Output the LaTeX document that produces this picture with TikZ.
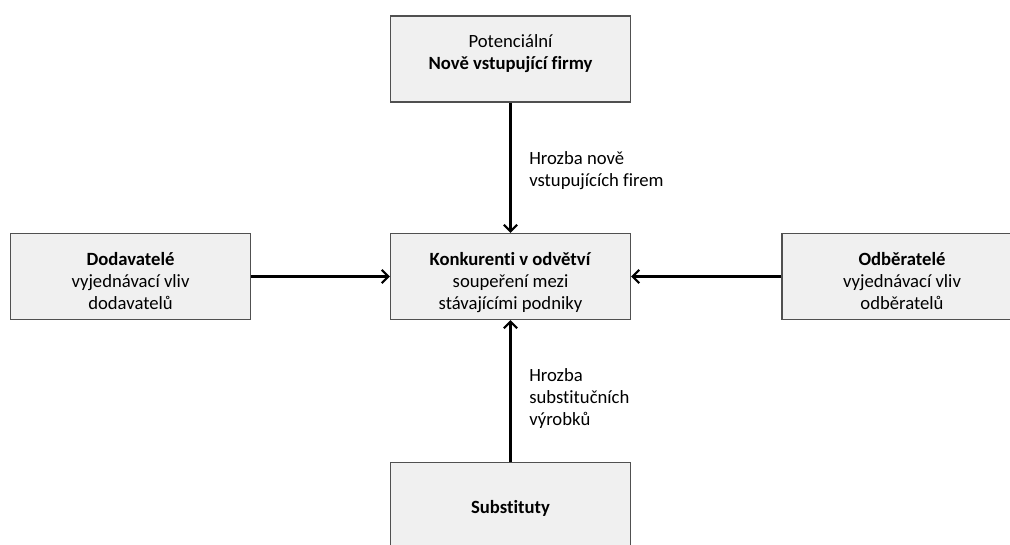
\documentclass[tikz,border=0pt]{standalone}
\usepackage{fontspec}
\setmainfont{Carlito}[Ligatures=NoCommon]
\usetikzlibrary{arrows.meta}
\definecolor{boxfill}{HTML}{F0F0F0}
\definecolor{boxline}{HTML}{505050}
\begin{document}
\begin{tikzpicture}[x=0.75pt,y=-0.75pt,
        force/.style={draw=boxline, line width=0.9pt, fill=boxfill, minimum width=180pt, minimum height=64.5pt, align=center, inner sep=0pt, text height=52pt, text depth=2.2pt, font=\fontsize{14}{16.6}\selectfont},
        pull/.style={-{Straight Barb[length=5pt,width=10pt]}, line width=1.6pt},
        note/.style={align=left, inner sep=0pt, anchor=base west, font=\fontsize{14}{16.6}\selectfont}]
        \useasboundingbox (0,0) rectangle (1010,544);
        \clip (0,0) rectangle (1010,544);
        \node[force, text height=18pt, text depth=2.6pt] (entrants) at (510.5,59) {Potenciální\\\textbf{Nově vstupující firmy}};
        \node[force] (rivals) at (510.5,276.5) {\textbf{Konkurenti v odvětví}\\soupeření mezi\\stávajícími podniky};
        \node[force] (suppliers) at (130.5,276.5) {\textbf{Dodavatelé}\\vyjednávací vliv\\dodavatelů};
        \node[force] (buyers) at (902,276.5) {\textbf{Odběratelé}\\vyjednávací vliv\\odběratelů};
        \node[force, text height=14pt, text depth=2.6pt] (substitutes) at (510.5,505.7) {\textbf{Substituty}};
        \draw[pull] (entrants) -- (rivals);
        \draw[pull] (substitutes) -- (rivals);
        \draw[pull] (suppliers) -- (rivals);
        \draw[pull] (buyers) -- (rivals);
        \node[note] (threatnew) at (529,186.7) {Hrozba nově\\vstupujících firem};
        \node[note] (threatsub) at (529,425.7) {Hrozba\\substitučních\\výrobků};
    \end{tikzpicture}
\end{document}
